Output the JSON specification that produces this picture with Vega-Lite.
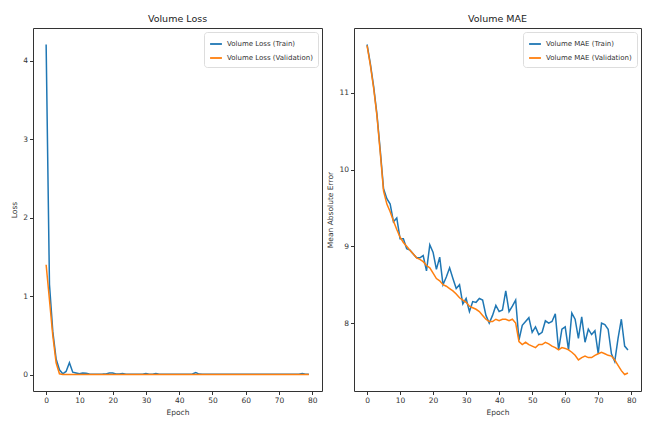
{
  "$schema": "https://vega.github.io/schema/vega-lite/v6.json",
  "padding": {"left": 10, "top": 13, "right": 2, "bottom": 2},
  "spacing": 3,
  "background": "white",
  "config": {
    "font": "DejaVu Sans",
    "view": {"stroke": "#333333", "strokeWidth": 1},
    "axis": {"grid": false, "domain": false, "tickColor": "#333333", "tickSize": 3.5, "labelFontSize": 7.5, "labelColor": "#333333", "titleFontSize": 7.5, "titleFontWeight": "normal", "titleColor": "#333333", "labelPadding": 2, "titlePadding": 4},
    "title": {"fontSize": 9.5, "fontWeight": "normal", "color": "#222222", "offset": 5},
    "legend": {"labelFontSize": 7, "labelColor": "#333333", "symbolType": "stroke", "symbolStrokeWidth": 1.8, "symbolSize": 140, "strokeColor": "#dddddd", "fillColor": "white", "padding": 5, "cornerRadius": 3, "rowPadding": 3, "offset": 4, "title": null}
  },
  "datasets": {
    "hist": [
      {"epoch": 0, "loss_train": 4.21, "loss_val": 1.40, "mae_train": 11.63, "mae_val": 11.62},
      {"epoch": 1, "loss_train": 1.15, "loss_val": 0.95, "mae_train": 11.38, "mae_val": 11.36},
      {"epoch": 2, "loss_train": 0.55, "loss_val": 0.50, "mae_train": 11.08, "mae_val": 11.06},
      {"epoch": 3, "loss_train": 0.20, "loss_val": 0.15, "mae_train": 10.72, "mae_val": 10.70},
      {"epoch": 4, "loss_train": 0.06, "loss_val": 0.01, "mae_train": 10.25, "mae_val": 10.22},
      {"epoch": 5, "loss_train": 0.01, "loss_val": 0.002, "mae_train": 9.75, "mae_val": 9.72},
      {"epoch": 6, "loss_train": 0.04, "loss_val": 0.002, "mae_train": 9.62, "mae_val": 9.55},
      {"epoch": 7, "loss_train": 0.15, "loss_val": 0.002, "mae_train": 9.55, "mae_val": 9.45},
      {"epoch": 8, "loss_train": 0.03, "loss_val": 0.002, "mae_train": 9.32, "mae_val": 9.33},
      {"epoch": 9, "loss_train": 0.02, "loss_val": 0.002, "mae_train": 9.37, "mae_val": 9.22},
      {"epoch": 10, "loss_train": 0.01, "loss_val": 0.002, "mae_train": 9.10, "mae_val": 9.12},
      {"epoch": 11, "loss_train": 0.02, "loss_val": 0.002, "mae_train": 9.10, "mae_val": 9.05},
      {"epoch": 12, "loss_train": 0.015, "loss_val": 0.002, "mae_train": 8.97, "mae_val": 9.00},
      {"epoch": 13, "loss_train": 0.006, "loss_val": 0.002, "mae_train": 8.95, "mae_val": 8.95},
      {"epoch": 14, "loss_train": 0.005, "loss_val": 0.002, "mae_train": 8.90, "mae_val": 8.90},
      {"epoch": 15, "loss_train": 0.005, "loss_val": 0.002, "mae_train": 8.85, "mae_val": 8.85},
      {"epoch": 16, "loss_train": 0.005, "loss_val": 0.002, "mae_train": 8.85, "mae_val": 8.83},
      {"epoch": 17, "loss_train": 0.006, "loss_val": 0.002, "mae_train": 8.88, "mae_val": 8.80},
      {"epoch": 18, "loss_train": 0.008, "loss_val": 0.002, "mae_train": 8.68, "mae_val": 8.75},
      {"epoch": 19, "loss_train": 0.02, "loss_val": 0.002, "mae_train": 9.02, "mae_val": 8.72},
      {"epoch": 20, "loss_train": 0.02, "loss_val": 0.002, "mae_train": 8.92, "mae_val": 8.65},
      {"epoch": 21, "loss_train": 0.008, "loss_val": 0.002, "mae_train": 8.70, "mae_val": 8.58},
      {"epoch": 22, "loss_train": 0.006, "loss_val": 0.002, "mae_train": 8.86, "mae_val": 8.55},
      {"epoch": 23, "loss_train": 0.012, "loss_val": 0.002, "mae_train": 8.50, "mae_val": 8.50},
      {"epoch": 24, "loss_train": 0.005, "loss_val": 0.002, "mae_train": 8.60, "mae_val": 8.48},
      {"epoch": 25, "loss_train": 0.005, "loss_val": 0.002, "mae_train": 8.72, "mae_val": 8.45},
      {"epoch": 26, "loss_train": 0.005, "loss_val": 0.002, "mae_train": 8.58, "mae_val": 8.42},
      {"epoch": 27, "loss_train": 0.005, "loss_val": 0.002, "mae_train": 8.45, "mae_val": 8.38},
      {"epoch": 28, "loss_train": 0.005, "loss_val": 0.002, "mae_train": 8.50, "mae_val": 8.33},
      {"epoch": 29, "loss_train": 0.005, "loss_val": 0.002, "mae_train": 8.25, "mae_val": 8.30},
      {"epoch": 30, "loss_train": 0.012, "loss_val": 0.002, "mae_train": 8.32, "mae_val": 8.27},
      {"epoch": 31, "loss_train": 0.005, "loss_val": 0.002, "mae_train": 8.15, "mae_val": 8.22},
      {"epoch": 32, "loss_train": 0.005, "loss_val": 0.002, "mae_train": 8.28, "mae_val": 8.20},
      {"epoch": 33, "loss_train": 0.012, "loss_val": 0.002, "mae_train": 8.27, "mae_val": 8.18},
      {"epoch": 34, "loss_train": 0.005, "loss_val": 0.002, "mae_train": 8.32, "mae_val": 8.15},
      {"epoch": 35, "loss_train": 0.005, "loss_val": 0.002, "mae_train": 8.30, "mae_val": 8.10},
      {"epoch": 36, "loss_train": 0.005, "loss_val": 0.002, "mae_train": 8.10, "mae_val": 8.05},
      {"epoch": 37, "loss_train": 0.005, "loss_val": 0.002, "mae_train": 8.00, "mae_val": 8.02},
      {"epoch": 38, "loss_train": 0.005, "loss_val": 0.002, "mae_train": 8.10, "mae_val": 8.02},
      {"epoch": 39, "loss_train": 0.005, "loss_val": 0.002, "mae_train": 8.23, "mae_val": 8.05},
      {"epoch": 40, "loss_train": 0.005, "loss_val": 0.002, "mae_train": 8.15, "mae_val": 8.03},
      {"epoch": 41, "loss_train": 0.005, "loss_val": 0.002, "mae_train": 8.17, "mae_val": 8.05},
      {"epoch": 42, "loss_train": 0.005, "loss_val": 0.002, "mae_train": 8.42, "mae_val": 8.05},
      {"epoch": 43, "loss_train": 0.005, "loss_val": 0.002, "mae_train": 8.15, "mae_val": 8.03},
      {"epoch": 44, "loss_train": 0.008, "loss_val": 0.002, "mae_train": 8.22, "mae_val": 8.05},
      {"epoch": 45, "loss_train": 0.025, "loss_val": 0.002, "mae_train": 8.30, "mae_val": 8.00},
      {"epoch": 46, "loss_train": 0.006, "loss_val": 0.002, "mae_train": 7.78, "mae_val": 7.76},
      {"epoch": 47, "loss_train": 0.005, "loss_val": 0.002, "mae_train": 7.97, "mae_val": 7.72},
      {"epoch": 48, "loss_train": 0.005, "loss_val": 0.002, "mae_train": 8.02, "mae_val": 7.75},
      {"epoch": 49, "loss_train": 0.005, "loss_val": 0.002, "mae_train": 8.07, "mae_val": 7.72},
      {"epoch": 50, "loss_train": 0.005, "loss_val": 0.002, "mae_train": 7.88, "mae_val": 7.70},
      {"epoch": 51, "loss_train": 0.005, "loss_val": 0.002, "mae_train": 7.95, "mae_val": 7.68},
      {"epoch": 52, "loss_train": 0.005, "loss_val": 0.002, "mae_train": 7.85, "mae_val": 7.72},
      {"epoch": 53, "loss_train": 0.005, "loss_val": 0.002, "mae_train": 7.88, "mae_val": 7.72},
      {"epoch": 54, "loss_train": 0.005, "loss_val": 0.002, "mae_train": 8.03, "mae_val": 7.75},
      {"epoch": 55, "loss_train": 0.005, "loss_val": 0.002, "mae_train": 8.00, "mae_val": 7.73},
      {"epoch": 56, "loss_train": 0.005, "loss_val": 0.002, "mae_train": 8.02, "mae_val": 7.70},
      {"epoch": 57, "loss_train": 0.005, "loss_val": 0.002, "mae_train": 8.12, "mae_val": 7.68},
      {"epoch": 58, "loss_train": 0.005, "loss_val": 0.002, "mae_train": 7.65, "mae_val": 7.65},
      {"epoch": 59, "loss_train": 0.005, "loss_val": 0.002, "mae_train": 7.92, "mae_val": 7.68},
      {"epoch": 60, "loss_train": 0.005, "loss_val": 0.002, "mae_train": 7.95, "mae_val": 7.67},
      {"epoch": 61, "loss_train": 0.005, "loss_val": 0.002, "mae_train": 7.65, "mae_val": 7.65},
      {"epoch": 62, "loss_train": 0.005, "loss_val": 0.002, "mae_train": 8.13, "mae_val": 7.62},
      {"epoch": 63, "loss_train": 0.005, "loss_val": 0.002, "mae_train": 8.05, "mae_val": 7.58},
      {"epoch": 64, "loss_train": 0.005, "loss_val": 0.002, "mae_train": 7.80, "mae_val": 7.52},
      {"epoch": 65, "loss_train": 0.005, "loss_val": 0.002, "mae_train": 8.08, "mae_val": 7.55},
      {"epoch": 66, "loss_train": 0.005, "loss_val": 0.002, "mae_train": 7.75, "mae_val": 7.57},
      {"epoch": 67, "loss_train": 0.005, "loss_val": 0.002, "mae_train": 7.92, "mae_val": 7.55},
      {"epoch": 68, "loss_train": 0.005, "loss_val": 0.002, "mae_train": 7.85, "mae_val": 7.55},
      {"epoch": 69, "loss_train": 0.005, "loss_val": 0.002, "mae_train": 7.90, "mae_val": 7.58},
      {"epoch": 70, "loss_train": 0.005, "loss_val": 0.002, "mae_train": 7.60, "mae_val": 7.60},
      {"epoch": 71, "loss_train": 0.005, "loss_val": 0.002, "mae_train": 8.00, "mae_val": 7.62},
      {"epoch": 72, "loss_train": 0.005, "loss_val": 0.002, "mae_train": 7.98, "mae_val": 7.60},
      {"epoch": 73, "loss_train": 0.005, "loss_val": 0.002, "mae_train": 7.92, "mae_val": 7.58},
      {"epoch": 74, "loss_train": 0.005, "loss_val": 0.002, "mae_train": 7.60, "mae_val": 7.57},
      {"epoch": 75, "loss_train": 0.005, "loss_val": 0.002, "mae_train": 7.50, "mae_val": 7.52},
      {"epoch": 76, "loss_train": 0.005, "loss_val": 0.002, "mae_train": 7.80, "mae_val": 7.45},
      {"epoch": 77, "loss_train": 0.012, "loss_val": 0.002, "mae_train": 8.05, "mae_val": 7.38},
      {"epoch": 78, "loss_train": 0.005, "loss_val": 0.002, "mae_train": 7.70, "mae_val": 7.33},
      {"epoch": 79, "loss_train": 0.005, "loss_val": 0.002, "mae_train": 7.65, "mae_val": 7.35}
    ]
  },
  "hconcat": [
    {
      "title": "Volume Loss",
      "width": 289,
      "height": 363,
      "data": {"name": "hist"},
      "transform": [{"fold": ["loss_train", "loss_val"], "as": ["series", "value"]}],
      "mark": {"type": "line", "strokeWidth": 1.5, "clip": true},
      "encoding": {
        "x": {"field": "epoch", "type": "quantitative", "title": "Epoch", "scale": {"domain": [-3.95, 82.95], "nice": false, "zero": false}, "axis": {"values": [0, 10, 20, 30, 40, 50, 60, 70, 80]}},
        "y": {"field": "value", "type": "quantitative", "title": "Loss", "scale": {"domain": [-0.21, 4.42], "nice": false, "zero": false}, "axis": {"values": [0, 1, 2, 3, 4]}},
        "color": {"field": "series", "type": "nominal", "scale": {"domain": ["loss_train", "loss_val"], "range": ["#1f77b4", "#ff7f0e"]}, "legend": {"orient": "top-right", "labelExpr": "datum.label == 'loss_train' ? 'Volume Loss (Train)' : 'Volume Loss (Validation)'"}}
      }
    },
    {
      "title": "Volume MAE",
      "width": 287,
      "height": 363,
      "data": {"name": "hist"},
      "transform": [{"fold": ["mae_train", "mae_val"], "as": ["series", "value"]}],
      "mark": {"type": "line", "strokeWidth": 1.5, "clip": true},
      "encoding": {
        "x": {"field": "epoch", "type": "quantitative", "title": "Epoch", "scale": {"domain": [-3.95, 82.95], "nice": false, "zero": false}, "axis": {"values": [0, 10, 20, 30, 40, 50, 60, 70, 80]}},
        "y": {"field": "value", "type": "quantitative", "title": "Mean Absolute Error", "scale": {"domain": [7.115, 11.845], "nice": false, "zero": false}, "axis": {"values": [8, 9, 10, 11]}},
        "color": {"field": "series", "type": "nominal", "scale": {"domain": ["mae_train", "mae_val"], "range": ["#1f77b4", "#ff7f0e"]}, "legend": {"orient": "top-right", "labelExpr": "datum.label == 'mae_train' ? 'Volume MAE (Train)' : 'Volume MAE (Validation)'"}}
      }
    }
  ],
  "resolve": {"scale": {"color": "independent"}, "legend": {"color": "independent"}}
}
